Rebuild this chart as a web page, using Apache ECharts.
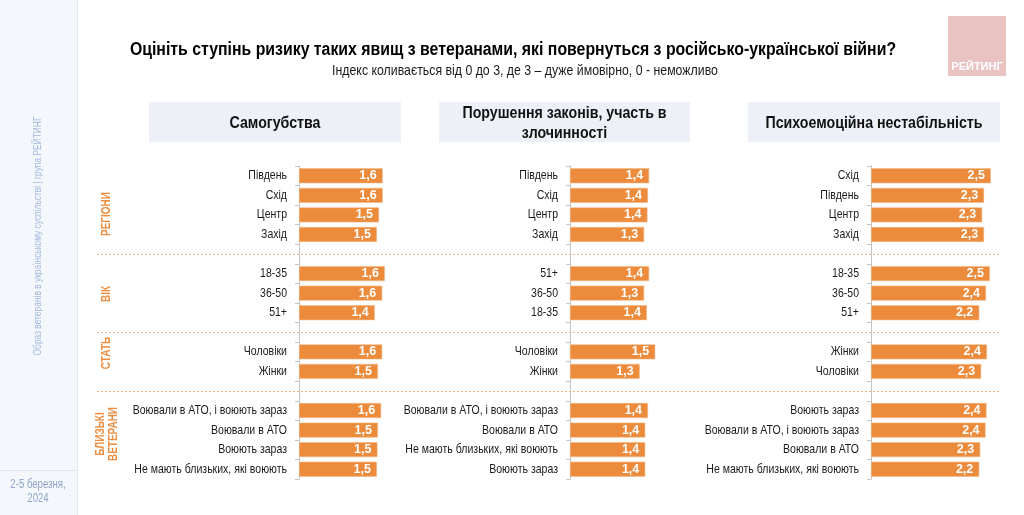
<!DOCTYPE html>
<html>
<head>
<meta charset="utf-8">
<script src="https://cdn.jsdelivr.net/npm/echarts@6/dist/echarts.min.js"></script>
<style>
html,body{margin:0;padding:0;background:#fff;}
#c{width:1024px;height:515px;}
</style>
</head>
<body>
<div id="c"></div>
<script>
// ---------- DATA ----------
// Panel 1: Самогубства
const p1RegionCats = ['Південь','Схід','Центр','Захід'];
const p1RegionVals = [1.58,1.58,1.51,1.47];
const p1AgeCats = ['18-35','36-50','51+'];
const p1AgeVals = [1.62,1.57,1.43];
const p1SexCats = ['Чоловіки','Жінки'];
const p1SexVals = [1.57,1.49];
const p1VetCats = ['Воювали в АТО, і воюють зараз','Воювали в АТО','Воюють зараз','Не мають близьких, які воюють'];
const p1VetVals = [1.55,1.49,1.48,1.47];

// Panel 2: Порушення законів, участь в злочинності
const p2RegionCats = ['Південь','Схід','Центр','Захід'];
const p2RegionVals = [1.43,1.41,1.40,1.34];
const p2AgeCats = ['51+','36-50','18-35'];
const p2AgeVals = [1.43,1.34,1.39];
const p2SexCats = ['Чоловіки','Жінки'];
const p2SexVals = [1.54,1.26];
const p2VetCats = ['Воювали в АТО, і воюють зараз','Воювали в АТО','Не мають близьких, які воюють','Воюють зараз'];
const p2VetVals = [1.41,1.36,1.36,1.36];

// Panel 3: Психоемоційна нестабільність
const p3RegionCats = ['Схід','Південь','Центр','Захід'];
const p3RegionVals = [2.48,2.34,2.30,2.34];
const p3AgeCats = ['18-35','36-50','51+'];
const p3AgeVals = [2.46,2.38,2.24];
const p3SexCats = ['Жінки','Чоловіки'];
const p3SexVals = [2.40,2.28];
const p3VetCats = ['Воюють зараз','Воювали в АТО, і воюють зараз','Воювали в АТО','Не мають близьких, які воюють'];
const p3VetVals = [2.39,2.37,2.26,2.24];

const panelTitles = ['Самогубства','Порушення законів, участь в\nзлочинності','Психоемоційна нестабільність'];
const groupTitles = ['РЕГІОНИ','ВІК','СТАТЬ','БЛИЗЬКІ\nВЕТЕРАНИ'];
const chartTitle = 'Оцініть ступінь ризику таких явищ з ветеранами, які повернуться з російсько-української війни?';
const chartSubtitle = 'Індекс коливається від 0 до 3, де 3 – дуже ймовірно, 0 - неможливо';
const sideText = 'Образ ветеранів в українському суспільстві | група РЕЙТИНГ';
const dateText = '2-5 березня,\n2024';
const logoText = 'РЕЙТИНГ';

// ---------- BUILD ----------
function joinGroups(groups){
  const cats = [], vals = [];
  groups.forEach((g, i) => {
    if (i > 0) { cats.push(' '.repeat(i)); vals.push('-'); }
    g[0].forEach((c, j) => { cats.push(c); vals.push(g[1][j]); });
  });
  return {cats, vals};
}
const panels = [
  joinGroups([[p1RegionCats,p1RegionVals],[p1AgeCats,p1AgeVals],[p1SexCats,p1SexVals],[p1VetCats,p1VetVals]]),
  joinGroups([[p2RegionCats,p2RegionVals],[p2AgeCats,p2AgeVals],[p2SexCats,p2SexVals],[p2VetCats,p2VetVals]]),
  joinGroups([[p3RegionCats,p3RegionVals],[p3AgeCats,p3AgeVals],[p3SexCats,p3SexVals],[p3VetCats,p3VetVals]])
];
const blankIdx = [];
panels[0].cats.forEach((c, i) => { if (c.trim() === '') blankIdx.push(i); });

const FONT = "'Liberation Sans',Arial,sans-serif";
const ORANGE = '#EB8B3B';
const NARROW = 0.8;
const gridDefs = [
  {left: 299, width: 159},
  {left: 570, width: 166},
  {left: 871, width: 145}
];
const TOP = 166, HEIGHT = 313;

const grid = gridDefs.map(g => ({left: g.left, width: g.width, top: TOP, height: HEIGHT}));
grid.push({left: 97, right: 23, top: TOP, height: HEIGHT});

const xAxis = gridDefs.map((g, i) => ({type: 'value', gridIndex: i, min: 0, max: 3, show: false}));
xAxis.push({type: 'value', gridIndex: 3, min: 0, max: 1, show: false});

const yAxis = panels.map((p, i) => ({
  type: 'category', gridIndex: i, data: p.cats, inverse: true,
  axisLine: {show: true, lineStyle: {color: '#c4c4c4', width: 1}},
  axisTick: {show: true, length: 4, interval: 0, lineStyle: {color: '#c4c4c4'}},
  axisLabel: {show: false},
  splitLine: {show: false}
}));
yAxis.push({type: 'category', gridIndex: 3, data: panels[0].cats.map((c, i) => 'r' + i), inverse: true, show: false});

const series = panels.map((p, i) => ({
  type: 'bar', xAxisIndex: i, yAxisIndex: i, data: p.vals, barWidth: 15,
  itemStyle: {color: ORANGE, borderColor: '#f3b98a', borderWidth: 0.6},
  label: {
    show: true, position: 'insideRight', distance: 6, color: '#fff', fontWeight: 'bold',
    fontSize: 12.5, fontFamily: FONT,
    formatter: d => d.value.toFixed(1).replace('.', ',')
  },
  silent: true
}));
series.push({
  type: 'scatter', xAxisIndex: 3, yAxisIndex: 3, data: [[0, 0]], symbolSize: 0, silent: true,
  markLine: {
    silent: true, symbol: ['none','none'], label: {show: false},
    lineStyle: {color: '#f2b27e', type: [2, 2], width: 1},
    data: blankIdx.map(i => ({yAxis: i}))
  }
});

const chart = echarts.init(document.getElementById('c'), null, {renderer: 'canvas'});
chart.setOption({
  animation: false,
  backgroundColor: '#fff',
  grid, xAxis, yAxis, series
});

// ---------- decorative text & category labels (narrow type via scaleX) ----------
function txt(x, y, text, font, fill, align, opts){
  return Object.assign({type: 'text', x, y, scaleX: NARROW, silent: true,
    style: {text, fill, font, align: align || 'center', verticalAlign: 'middle'}}, opts || {});
}
const headerBoxes = [
  {x: 149, y: 102, w: 252, h: 40},
  {x: 439, y: 102, w: 251, h: 40},
  {x: 748, y: 102, w: 252, h: 40}
];
const graphic = [
  {type: 'rect', shape: {x: 0, y: 0, width: 77, height: 515}, style: {fill: '#f4f7fb'}, z: -10},
  {type: 'line', shape: {x1: 77.5, y1: 0, x2: 77.5, y2: 515}, style: {stroke: '#e4e9f1', lineWidth: 1}},
  {type: 'line', shape: {x1: 0, y1: 470.5, x2: 77, y2: 470.5}, style: {stroke: '#dfe5ee', lineWidth: 1}},
  txt(38, 236, sideText, '10.5px ' + FONT, '#a3b9df', 'center', {rotation: Math.PI / 2}),
  txt(38, 492, dateText, '12px ' + FONT, '#8ea5c9', 'center'),
  txt(513, 50, chartTitle, 'bold 18px ' + FONT, '#000', 'center', {scaleX: 0.88}),
  txt(525, 71, chartSubtitle, '14px ' + FONT, '#1a1a1a', 'center', {scaleX: 0.88}),
  {type: 'rect', shape: {x: 948, y: 16, width: 58, height: 60}, style: {fill: '#e9c2c2'}},
  {type: 'text', x: 977, y: 67, style: {text: logoText, fill: '#fff', font: 'bold 11px ' + FONT, align: 'center', verticalAlign: 'middle'}}
];
graphic[4].style.lineHeight = 14;
headerBoxes.forEach((b, i) => {
  graphic.push({type: 'rect', shape: {x: b.x, y: b.y, width: b.w, height: b.h}, style: {fill: '#edf1f7'}, z: -5});
  const t = txt(b.x + b.w / 2, b.y + b.h / 2 + 1, panelTitles[i], 'bold 17px ' + FONT, '#111', 'center', {scaleX: 0.835});
  t.style.lineHeight = 20;
  graphic.push(t);
});
const groupLabelPos = [[107, 214], [107, 294], [107, 353], [107, 434]];
groupTitles.forEach((t, i) => {
  const g = txt(groupLabelPos[i][0], groupLabelPos[i][1], t, 'bold 12.5px ' + FONT, '#ED8C3E', 'center', {rotation: Math.PI / 2});
  g.style.lineHeight = 13;
  graphic.push(g);
});
// category labels, positioned through the axes
panels.forEach((p, i) => {
  const x0 = chart.convertToPixel({xAxisIndex: i}, 0);
  p.cats.forEach((c, j) => {
    if (c.trim() === '') return;
    const y = chart.convertToPixel({yAxisIndex: i}, j);
    graphic.push(txt(x0 - 12, y, c, '13px ' + FONT, '#1a1a1a', 'right', {scaleX: 0.81}));
  });
});
chart.setOption({graphic});
</script>
</body>
</html>
